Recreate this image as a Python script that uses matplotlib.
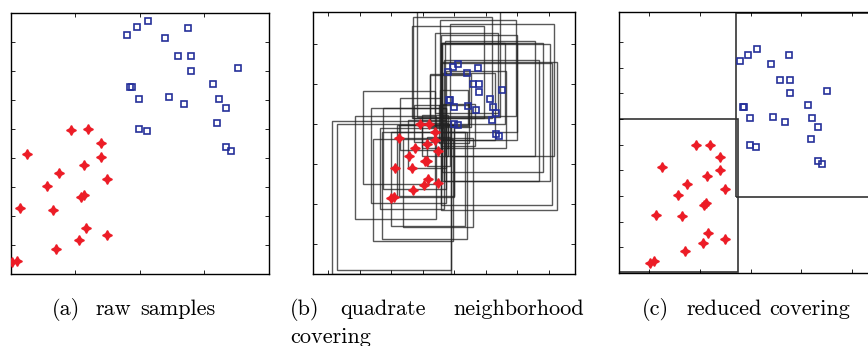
import numpy as np
import matplotlib
matplotlib.use('Agg')
import matplotlib.pyplot as plt
from matplotlib.patches import Rectangle

# class 1 (blue squares) and class 2 (red stars) samples
blue_x = [3.801, 3.956, 4.126, 4.395, 4.751, 4.591, 4.787, 4.787, 5.515, 3.848, 3.879,
          3.992, 4.451, 4.684, 5.138, 5.221, 5.334, 5.195, 3.992, 4.116, 5.334, 5.411]
blue_y = [4.301, 4.407, 4.490, 4.259, 4.393, 4.002, 4.002, 3.804, 3.845, 3.583, 3.583,
          3.412, 3.440, 3.348, 3.624, 3.412, 3.283, 3.086, 3.002, 2.970, 2.754, 2.699]
red_x = [2.929, 3.192, 3.388, 2.248, 3.388, 3.130, 2.743, 3.492, 2.563, 3.089, 3.125,
         2.139, 2.655, 3.161, 3.492, 3.053, 2.697, 2.010, 2.093]
red_y = [2.993, 3.002, 2.805, 2.657, 2.607, 2.505, 2.390, 2.312, 2.211, 2.068, 2.086,
         1.907, 1.888, 1.631, 1.534, 1.465, 1.341, 1.161, 1.180]

# half side of each sample's quadrate neighborhood (panel b)
red_half = [0.656, 0.459, 0.407, 1.154, 0.406, 0.604, 1.013, 0.363, 1.192, 0.898, 0.880,
            1.285, 1.014, 1.173, 1.105, 1.339, 1.273, 1.899, 1.816]
blue_half = [1.144, 1.250, 1.318, 1.000, 1.203, 1.007, 1.203, 1.201, 1.646, 0.625, 0.656,
             0.436, 0.830, 0.959, 1.434, 1.600, 1.713, 1.506, 0.480, 0.534, 1.765, 1.842]

# neighborhoods kept in the reduced covering (panel c): (class, sample index)
kept = [('red', 8), ('blue', 14)]

captions = [('(a)', 66.2, 315), ('raw', 113.3, 315), ('samples', 177.5, 315),
            ('(b)', 305, 315), ('quadrate', 383.3, 315), ('neighborhood', 518.8, 315),
            ('covering', 330.8, 343),
            ('(c)', 655.8, 315), ('reduced', 724.2, 315), ('covering', 810, 315)]

W, H = 868, 346
fig = plt.figure(figsize=(W / 100, H / 100), dpi=100)


def ax_at(l, r, t, b):
    return fig.add_axes([l / W, 1 - b / H, (r - l) / W, (b - t) / H])


def style(ax):
    ax.tick_params(direction='in', length=3, width=0.6, top=True, right=True,
                   labelbottom=False, labelleft=False)
    for s in ax.spines.values():
        s.set_linewidth(1.0)


def pts(ax):
    ax.plot(blue_x, blue_y, 's', ms=5, mfc='none', mec='#25309a', mew=1.2, zorder=5)
    ax.plot(red_x, red_y, marker=(4, 1, 0), ls='none', ms=7, color='#ec1c26',
            mew=1.0, zorder=5)


def square(ax, x, y, h, **kw):
    ax.add_patch(Rectangle((x - h, y - h), 2 * h, 2 * h, fill=False, **kw))


# (a) raw samples
axa = ax_at(11, 269, 13, 274)
pts(axa)
axa.set_xlim(2, 6)
axa.set_ylim(1.0, 4.6)
axa.set_xticks([3, 4, 5])
axa.set_yticks(np.arange(1.4, 4.4, 0.4))
style(axa)

# (b) quadrate neighborhood covering
axb = ax_at(313, 575, 12, 274)
for x, y, h in list(zip(red_x, red_y, red_half)) + list(zip(blue_x, blue_y, blue_half)):
    square(axb, x, y, h, ec='#222222', lw=1.0, alpha=0.75)
pts(axb)
axb.set_xlim(-0.476, 7.83)
axb.set_ylim(-0.744, 5.79)
axb.set_xticks(range(0, 8))
axb.set_yticks(range(0, 6))
style(axb)

# (c) reduced covering
axc = ax_at(619, 877, 12, 273)
for cls, i in kept:
    if cls == 'red':
        square(axc, red_x[i], red_y[i], red_half[i], ec='#333333', lw=1.2)
    else:
        square(axc, blue_x[i], blue_y[i], blue_half[i], ec='#333333', lw=1.2)
pts(axc)
axc.set_xlim(1.40, 6.5)
axc.set_ylim(1.0, 5.07)
axc.set_xticks([2, 3, 4, 5, 6])
axc.set_yticks(np.arange(1.4, 5.0, 0.4))
style(axc)

for w, x, y in captions:
    fig.text(x / W, 1 - y / H, w, ha='center', va='baseline', fontsize=16, family='cmr10')

fig.savefig('out.png', dpi=100)
